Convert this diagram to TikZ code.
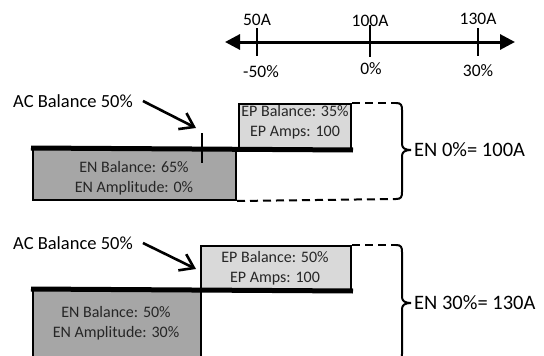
\documentclass[tikz,border=0pt]{standalone}
\usepackage{fontspec}
\setmainfont{Carlito}
\usetikzlibrary{arrows.meta}
\definecolor{engray}{HTML}{A6A6A6}
\definecolor{eplight}{HTML}{D9D9D9}
\tikzset{
  axislbl/.style={inner sep=0pt, anchor=base, font=\fontsize{17.5}{20}\selectfont},
  tickline/.style={line width=2pt},
  axisline/.style={line width=3pt, {Triangle[length=15pt,width=15pt]}-{Triangle[length=15pt,width=15pt]}},
  aclbl/.style={inner sep=0pt, anchor=west, font=\fontsize{18.5}{22}\selectfont},
  barbarrow/.style={line width=2.6pt, -{Straight Barb[length=13pt,width=18pt]}},
  enbox/.style={draw, line width=2pt, fill=engray, inner sep=0pt, anchor=north west},
  epbox/.style={draw, line width=2pt, fill=eplight, inner sep=0pt, anchor=north west},
  boxtxt/.style={inner sep=0pt, align=center, font=\fontsize{16}{20}\selectfont, text=black!85},
  thickline/.style={line width=5pt},
  dashline/.style={line width=2pt, dash pattern=on 8pt off 5pt},
  bracel/.style={line width=2pt},
  enlbl/.style={inner sep=0pt, anchor=west, font=\fontsize{20.5}{24}\selectfont},
}
\begin{document}
\begin{tikzpicture}[x=1pt,y=-1pt]
\useasboundingbox (0,0) rectangle (544,356);
\clip (0,0) rectangle (544,356);

% ---------- number line ----------
\coordinate (axL) at (225,42);
\coordinate (axR) at (515,42);
\draw[axisline] (axL) -- (axR);
\coordinate (t1a) at (257,28); \coordinate (t1b) at (257,56);
\coordinate (t2a) at (370,25); \coordinate (t2b) at (370,57);
\coordinate (t3a) at (478,28); \coordinate (t3b) at (478,56);
\draw[tickline] (t1a) -- (t1b);
\draw[tickline] (t2a) -- (t2b);
\draw[tickline] (t3a) -- (t3b);
\node[axislbl] (l50A) at (257,25) {50A};
\node[axislbl] (l100A) at (370,27) {100A};
\node[axislbl] (l130A) at (478,24) {130A};
\node[axislbl] (lm50) at (261,77) {-50\%};
\node[axislbl] (l0) at (371,74) {0\%};
\node[axislbl] (l30) at (478,76) {30\%};

% ---------- diagram 1 ----------
\node[aclbl] (ac1) at (13,101) {AC Balance 50\%};
\coordinate (tip1) at (196,128);
\draw[barbarrow] ([xshift=10pt]ac1.east) -- (tip1);

\node[enbox, minimum width=203pt, minimum height=51pt] (en1) at (32,148) {};
\node[epbox, minimum width=112pt, minimum height=45pt] (ep1) at (238,103) {};
\draw[thickline] ([xshift=-1pt]en1.north west) -- ([xshift=1pt]ep1.south east);
\coordinate (m1a) at (202,133); \coordinate (m1b) at (202,163);
\draw[tickline] (m1a) -- (m1b);
\node[boxtxt] (en1t) at (134,178.5) {EN Balance: 65\%\\EN Amplitude: 0\%};
\node[boxtxt] (ep1t) at (295,122.5) {EP Balance: 35\%\\EP Amps: 100};

\coordinate (d1a) at (396,103);
\coordinate (d1b) at (396,199);
\draw[dashline] (ep1.north east) -- (d1a);
\draw[dashline] (en1.south east) -- (d1b);
\coordinate (b1tip) at (411,150);
\draw[bracel] (d1a) .. controls (401,103) and (402,105) .. (402,110) -- (402,144)
  .. controls (402,148) and (405,150) .. (b1tip)
  .. controls (405,150) and (402,152) .. (402,156) -- (402,192)
  .. controls (402,197) and (401,199) .. (d1b);
\node[enlbl] (lab1) at (414,150) {EN 0\%= 100A};

% ---------- diagram 2 ----------
\node[aclbl] (ac2) at (13,243) {AC Balance 50\%};
\coordinate (tip2) at (196,269);
\draw[barbarrow] ([xshift=10pt]ac2.east) -- (tip2);

\node[enbox, minimum width=168pt, minimum height=90pt] (en2) at (32,289) {};
\node[epbox, minimum width=150pt, minimum height=44pt] (ep2) at (200,245) {};
\draw[thickline] ([xshift=-1pt]en2.north west) -- ([xshift=1pt]ep2.south east);
\node[boxtxt] (en2t) at (116,323) {EN Balance: 50\%\\EN Amplitude: 30\%};
\node[boxtxt] (ep2t) at (275,268) {EP Balance: 50\%\\EP Amps: 100};

\coordinate (d2a) at (396,245);
\coordinate (d2b) at (396,361);
\draw[dashline] (ep2.north east) -- (d2a);
\coordinate (b2tip) at (411,303);
\draw[bracel] (d2a) .. controls (401,245) and (402,247) .. (402,252) -- (402,297)
  .. controls (402,301) and (405,303) .. (b2tip)
  .. controls (405,303) and (402,305) .. (402,309) -- (402,354)
  .. controls (402,359) and (401,361) .. (d2b);
\node[enlbl] (lab2) at (414,303) {EN 30\%= 130A};
\end{tikzpicture}
\end{document}
